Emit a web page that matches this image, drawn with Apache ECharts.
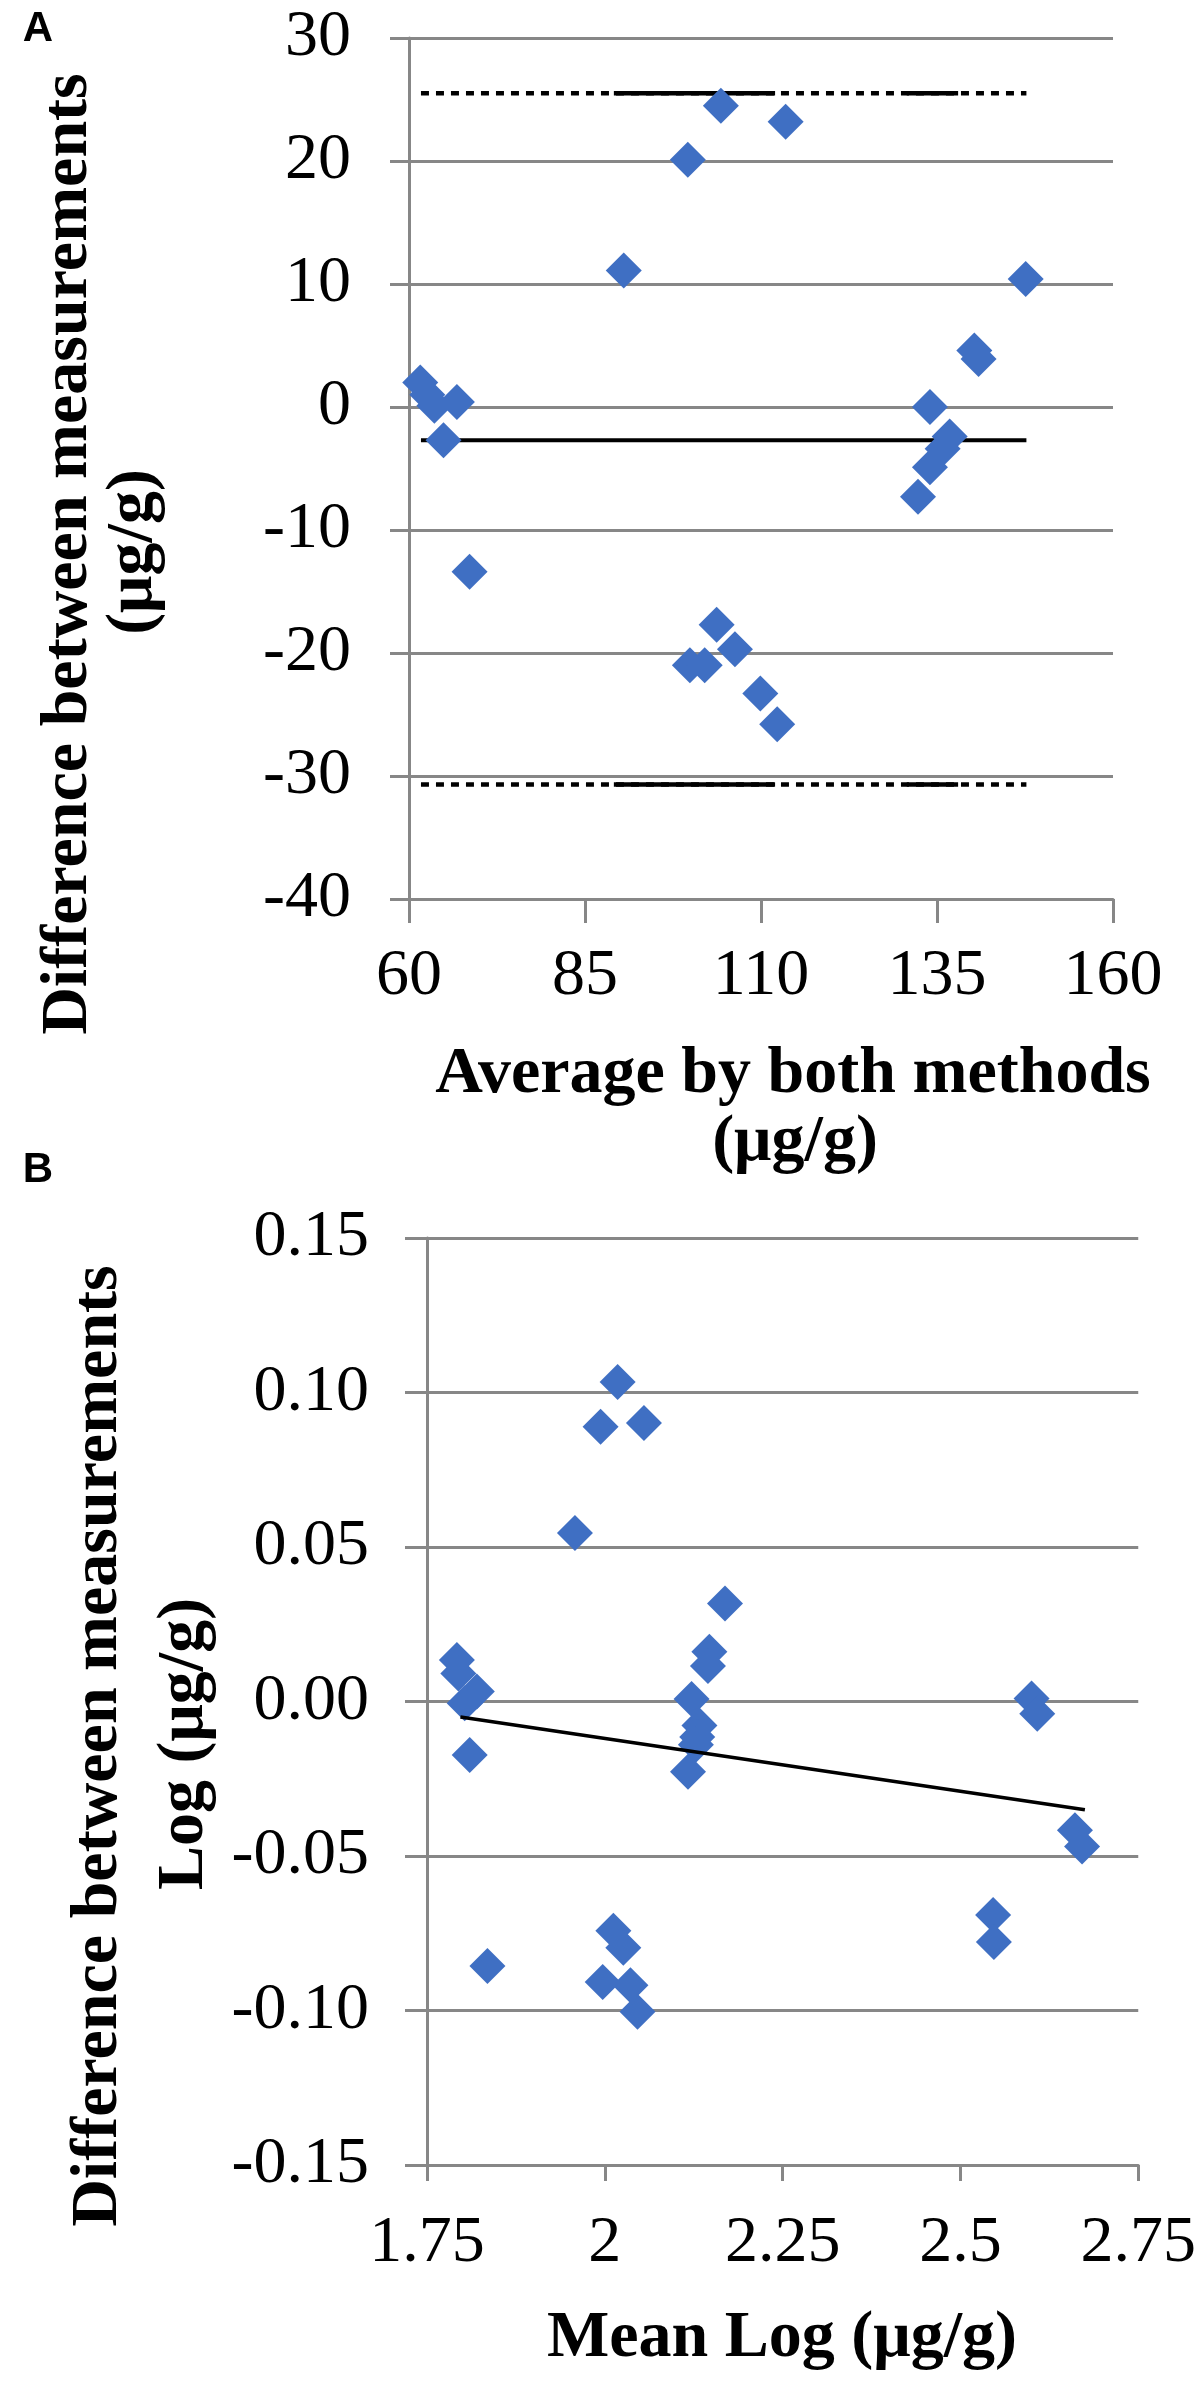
<!DOCTYPE html>
<html lang="en">
<head>
<meta charset="UTF-8">
<title>Bland-Altman plots</title>
<style>
  html, body { margin: 0; padding: 0; background: #fff; }
  #chart { width: 1199px; height: 2384px; }
</style>
</head>
<body>
<div id="chart"></div>
<script src="https://cdn.jsdelivr.net/npm/echarts@6/dist/echarts.min.js"></script>
<script>
// ---- panel A : raw values (ug/g) ----
var aAvg  = [61.6, 62.6, 63.6, 66.8, 64.9, 68.6, 90.5, 99.6, 104.3, 113.5,
             99.9, 102.0, 103.7, 106.3, 109.9, 112.3,
             132.3, 134.0, 135.8, 136.8, 134.0, 140.3, 140.9, 147.6];
var aDiff = [2.0, 1.0, 0.1, 0.4, -2.7, -13.4, 11.1, 20.1, 24.5, 23.2,
             -21.0, -21.0, -17.7, -19.7, -23.3, -25.8,
             -7.3, -4.9, -3.4, -2.4, 0.0, 4.6, 3.9, 10.4];
var aMean = -2.7;
var aUpper = 25.5;
var aLower = -30.7;
var aLineFrom = 61.7, aLineTo = 147.7;
var aSolidParts = [[89.1, 112.0], [130.7, 138.0]];   // solid bits sitting on the dotted limits
var aXTicks = [60, 85, 110, 135, 160];

// ---- panel B : log values ----
var bMean = [1.792, 1.794, 1.820, 1.803, 1.810, 1.835, 1.958, 1.994, 2.018, 2.055,
             2.012, 2.026, 1.997, 2.036, 2.046, 2.122, 2.133, 2.130, 2.128, 2.117,
             2.147, 2.145, 2.169, 2.600, 2.608, 2.546, 2.547, 2.661, 2.671];
var bDiff = [0.0134, 0.0091, 0.0032, -0.0006, -0.0173, -0.0856, 0.0545, 0.0889, 0.1034, 0.0901,
             -0.0742, -0.0797, -0.0908, -0.0918, -0.1004, 0.0008, -0.0078, -0.0115, -0.0140, -0.0227,
             0.0161, 0.0115, 0.0317, 0.0010, -0.0040, -0.0691, -0.0778, -0.0417, -0.0469];
var bTrend = [[1.797, -0.005], [2.675, -0.035]];

var gray = '#878787';
var blue = '#3F6FC3';
var serif = "'Liberation Serif', 'Times New Roman', serif";

function pairs(xs, ys) {
    var out = [];
    for (var i = 0; i < xs.length; i++) out.push([xs[i], ys[i]]);
    return out;
}
function hline(y, x1, x2) { return [[x1, y], [x2, y]]; }

var tickLabel = { color: '#000', fontFamily: serif, fontSize: 66 };

var series = [];
// dotted limits of agreement
[aUpper, aLower].forEach(function (lim) {
    series.push({
        type: 'line', xAxisIndex: 0, yAxisIndex: 0, symbol: 'none', silent: true,
        data: hline(lim, aLineFrom, aLineTo),
        lineStyle: { color: '#000', width: 4.5, type: [8, 7], cap: 'butt' }, z: 2
    });
    aSolidParts.forEach(function (p) {
        series.push({
            type: 'line', xAxisIndex: 0, yAxisIndex: 0, symbol: 'none', silent: true,
            data: hline(lim, p[0], p[1]),
            lineStyle: { color: '#000', width: 4.5 }, z: 2
        });
    });
});
// mean difference
series.push({
    type: 'line', xAxisIndex: 0, yAxisIndex: 0, symbol: 'none', silent: true,
    data: hline(aMean, aLineFrom, aLineTo),
    lineStyle: { color: '#000', width: 4 }, z: 2
});
series.push({
    type: 'scatter', xAxisIndex: 0, yAxisIndex: 0,
    symbol: 'diamond', symbolSize: 36,
    itemStyle: { color: blue, opacity: 1 }, data: pairs(aAvg, aDiff), z: 3
});
// panel B
series.push({
    type: 'scatter', xAxisIndex: 1, yAxisIndex: 1,
    symbol: 'diamond', symbolSize: 36,
    itemStyle: { color: blue, opacity: 1 }, data: pairs(bMean, bDiff), z: 2
});
series.push({
    type: 'line', xAxisIndex: 1, yAxisIndex: 1, symbol: 'none', silent: true,
    data: bTrend, lineStyle: { color: '#000', width: 3.5 }, z: 3
});

function txt(s, x, y, size, opt) {
    opt = opt || {};
    return {
        type: 'text', x: x, y: y, rotation: opt.rot || 0, silent: true,
        style: {
            text: s, fill: '#000',
            fontFamily: opt.family || serif, fontWeight: 'bold', fontSize: size,
            align: 'center', verticalAlign: 'middle'
        }
    };
}

var option = {
    backgroundColor: '#fff',
    animation: false,
    grid: [
        { left: 409, top: 38, width: 704, height: 861 },
        { left: 427, top: 1238, width: 712, height: 927 }
    ],
    xAxis: [
        {
            gridIndex: 0, type: 'value', min: 60, max: 160,
            axisLine: { onZero: false, lineStyle: { color: gray, width: 3 } },
            axisTick: { show: true, length: 24, customValues: aXTicks, lineStyle: { color: gray, width: 3 } },
            axisLabel: Object.assign({ margin: 45, customValues: aXTicks }, tickLabel),
            splitLine: { show: false }
        },
        {
            gridIndex: 1, type: 'value', min: 1.75, max: 2.75, interval: 0.25,
            axisLine: { onZero: false, lineStyle: { color: gray, width: 3 } },
            axisTick: { show: true, length: 16, lineStyle: { color: gray, width: 3 } },
            axisLabel: Object.assign({ margin: 46, formatter: function (v) { return String(+v.toFixed(2)); } }, tickLabel),
            splitLine: { show: false }
        }
    ],
    yAxis: [
        {
            gridIndex: 0, type: 'value', min: -40, max: 30, interval: 10,
            axisLine: { show: true, onZero: false, lineStyle: { color: gray, width: 3 } },
            axisTick: { show: true, length: 19, lineStyle: { color: gray, width: 3 } },
            axisLabel: Object.assign({ margin: 58 }, tickLabel),
            splitLine: { show: true, lineStyle: { color: gray, width: 3 } }
        },
        {
            gridIndex: 1, type: 'value', min: -0.15, max: 0.15, interval: 0.05,
            axisLine: { show: true, onZero: false, lineStyle: { color: gray, width: 3 } },
            axisTick: { show: true, length: 22, lineStyle: { color: gray, width: 3 } },
            axisLabel: Object.assign({ margin: 58, formatter: function (v) { return v.toFixed(2); } }, tickLabel),
            splitLine: { show: true, lineStyle: { color: gray, width: 3 } }
        }
    ],
    graphic: [
        txt('A', 38, 29, 42, { family: "'Liberation Sans', Arial, sans-serif" }),
        txt('B', 38, 1170, 42, { family: "'Liberation Sans', Arial, sans-serif" }),
        txt('Difference between measurements', 69, 554, 66, { rot: Math.PI / 2 }),
        txt('(μg/g)', 134, 552, 66, { rot: Math.PI / 2 }),
        txt('Average by both methods', 793, 1075, 66),
        txt('(μg/g)', 795, 1143, 66),
        txt('Difference between measurements', 99, 1746, 66, { rot: Math.PI / 2 }),
        txt('Log (μg/g)', 185, 1744, 66, { rot: Math.PI / 2 }),
        txt('Mean Log (μg/g)', 782, 2339, 66)
    ],
    series: series
};

var myChart = echarts.init(document.getElementById('chart'));
myChart.setOption(option);
</script>
</body>
</html>
